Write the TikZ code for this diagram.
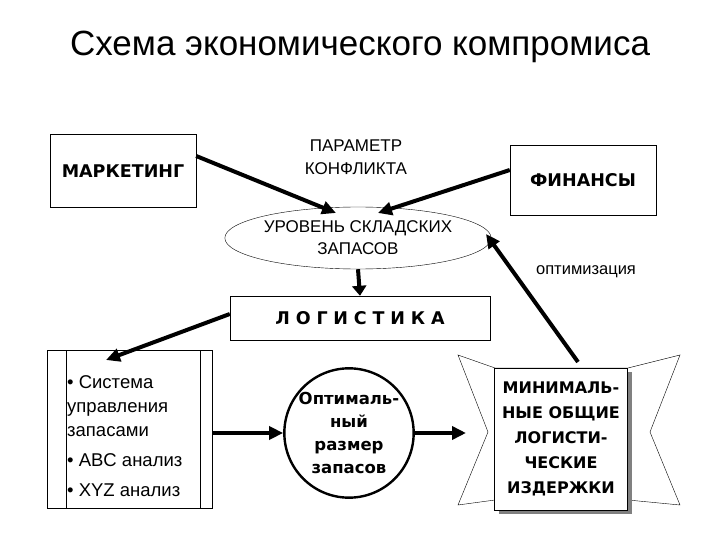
\documentclass[tikz,border=0pt]{standalone}
\usepackage{fontspec}
\setmainfont{Liberation Sans}
\newfontfamily\boldf{DejaVu Sans}
\usetikzlibrary{shapes.geometric,arrows.meta}
\begin{document}
\begin{tikzpicture}[x=1pt,y=-1pt,
  box/.style={draw,thin,inner sep=0pt},
  arr/.style={line width=4pt,-{Triangle[length=14pt,width=13pt]}},
  lbl/.style={font=\fontsize{17}{21}\selectfont,align=center}]
\useasboundingbox (0,0) rectangle (720,540);
\node (title) at (360,47) {\fontsize{35}{37}\selectfont Схема экономического компромиса};
\node[box,minimum width=146pt,minimum height=73pt] (mark) at (123,171) {\boldf\bfseries\fontsize{17.5}{20}\selectfont МАРКЕТИНГ};
\node[box,minimum width=146pt,minimum height=70pt] (fin) at (583,180) {\boldf\bfseries\fontsize{17.5}{20}\selectfont ФИНАНСЫ};
\node[lbl,font=\fontsize{17}{23}\selectfont] (param) at (356,157) {ПАРАМЕТР\\КОНФЛИКТА};
\node[draw,thin,ellipse,minimum width=258pt,minimum height=62pt,inner sep=0pt,lbl,font=\fontsize{17}{22}\selectfont] (lev) at (358,238) {\rule{0pt}{12pt}УРОВЕНЬ СКЛАДСКИХ\\ЗАПАСОВ};
\node[box,minimum width=260pt,minimum height=44pt] (log) at (360,318) {\boldf\bfseries\fontsize{17.5}{20}\selectfont Л\,\,О\,\,Г\,\,И\,\,С\,\,Т\,\,И\,\,К\,\,А};
\node[box,minimum width=165pt,minimum height=158pt] (list) at (130,429) {};
\draw[thin] (66,350) -- (66,508) (200,350) -- (200,508);
\node[anchor=north west,align=left,inner sep=0pt,font=\fontsize{18.5}{24}\selectfont] (items) at (67,375) {• Система\\управления\\запасами\\[6pt]• ABC анализ\\[6pt]• XYZ анализ};
\node[draw,circle,line width=2.4pt,minimum size=125pt,inner sep=0pt,align=center,font=\boldf\bfseries\fontsize{16.5}{23}\selectfont] (opt) at (349,433) {Оптималь-\\ный\\размер\\запасов};
% banner
\draw[thin] (458,355) -- (495,368) -- (628,368) -- (680,355) -- (650,432) -- (680,505) -- (628,500) -- (495,500) -- (458,505) -- (488,432) -- cycle;
\fill[gray] (499,372) rectangle (632,514);
\node[draw,thin,fill=white,minimum width=133pt,minimum height=142pt,inner sep=0pt,align=center,font=\boldf\bfseries\fontsize{16}{25}\selectfont] (min) at (561,439) {МИНИМАЛЬ-\\НЫЕ ОБЩИЕ\\ЛОГИСТИ-\\ЧЕСКИЕ\\ИЗДЕРЖКИ};
\coordinate (mtop) at (578,362);
\node[lbl,font=\fontsize{16.5}{18}\selectfont] (optim) at (586,272) {оптимизация};
\draw[arr] (mark.east|-0,156) -- (336,213);
\draw[arr] (fin.west|-0,170) -- (378,213);
\draw[arr,-{Triangle[length=10pt,width=14pt]}] (lev.south) -- (log.north);
\draw[arr] (log.west|-0,314) -- (106,360);
\draw[arr] (list.east|-0,433) -- (opt.west);
\draw[arr] (opt.east) -- (466,433);
\draw[arr] (mtop) -- (486,234);
\end{tikzpicture}
\end{document}
